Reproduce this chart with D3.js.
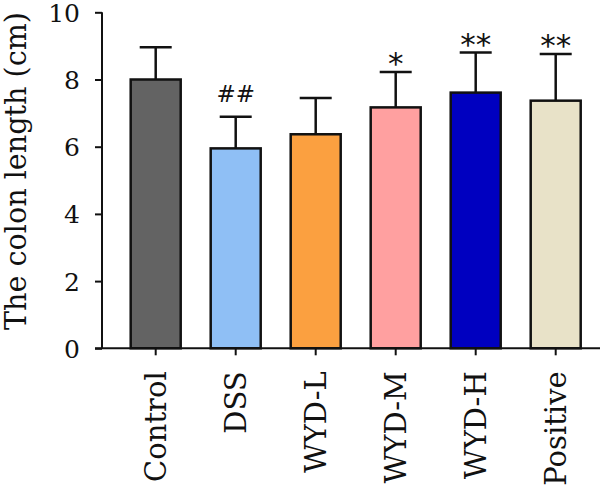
<!DOCTYPE html>
<html><head><meta charset="utf-8">
<script src="https://cdn.jsdelivr.net/npm/d3@7"></script>
<style>body{margin:0;background:#fff}</style>
</head><body>
<svg id="c" width="600" height="494"></svg>
<script>
const categories = ["Control","DSS","WYD-L","WYD-M","WYD-H","Positive"];
const means = [8.0, 5.95, 6.37, 7.17, 7.61, 7.37];
const errors = [0.96, 0.94, 1.08, 1.05, 1.19, 1.39];
const marks = ["", "##", "", "*", "**", "**"];
const colors = ["#636363","#8fbff5","#fba040","#ffa0a0","#0000c0","#e8e2c8"];
const yTicks = [0,2,4,6,8,10];

const svg = d3.select("#c");
const axisX = 102;
const y = d3.scaleLinear().domain([0,10]).range([348.3,12.3]);
const x = d3.scaleBand().domain(categories).range([115.7,595.7]).paddingInner(0.375).paddingOuter(0.1875);

const serif = "'DejaVu Serif', serif";

// bars
svg.selectAll("rect.bar").data(categories).enter().append("rect")
  .attr("x", d=>x(d)).attr("width", x.bandwidth())
  .attr("y", (d,i)=>y(means[i])).attr("height", (d,i)=>y(0)-y(means[i]))
  .attr("fill", (d,i)=>colors[i]).attr("stroke","#111").attr("stroke-width",2.5);

// error bars
const capW = 32;
categories.forEach((d,i)=>{
  const cx = x(d)+x.bandwidth()/2;
  svg.append("line").attr("x1",cx).attr("x2",cx).attr("y1",y(means[i])).attr("y2",y(means[i]+errors[i]))
    .attr("stroke","#111").attr("stroke-width",2.5);
  svg.append("line").attr("x1",cx-capW/2).attr("x2",cx+capW/2).attr("y1",y(means[i]+errors[i])).attr("y2",y(means[i]+errors[i]))
    .attr("stroke","#111").attr("stroke-width",2.5);
  if(marks[i]){
    const isHash = marks[i][0]==="#";
    svg.append("text").attr("x",cx).attr("y", y(means[i]+errors[i]) - (isHash?15:-2))
      .attr("text-anchor","middle").attr("font-family","'DejaVu Sans', sans-serif")
      .attr("font-size", isHash?23:31).attr("fill","#111").text(marks[i]);
  }
});

// y axis
const ya = svg.append("g").attr("transform",`translate(${axisX},0)`)
  .call(d3.axisLeft(y).tickValues(yTicks).tickSize(7).tickPadding(15));
ya.select(".domain").attr("stroke","#111").attr("stroke-width",2).attr("d",`M-0,${y(10)}V${y(0)}`);
ya.selectAll(".tick line").attr("stroke","#111").attr("stroke-width",2);
ya.selectAll(".tick text").attr("font-family",serif).attr("font-size",25).attr("fill","#111").attr("dy","0.36em");

// x axis
const xa = svg.append("g").attr("transform",`translate(0,${y(0)})`)
  .call(d3.axisBottom(x).tickSize(7).tickSizeOuter(0));
xa.select(".domain").attr("stroke","#111").attr("stroke-width",2).attr("d",`M95,0H600`);
xa.selectAll(".tick line").attr("stroke","#111").attr("stroke-width",2);
xa.selectAll(".tick text").attr("font-family",serif).attr("font-size",29).attr("fill","#111")
  .attr("transform","rotate(-90)").attr("text-anchor","end")
  .attr("x",-23).attr("y",0).attr("dy","0.35em");

// y label
svg.append("text").attr("transform",`translate(26,${171}) rotate(-90)`)
  .attr("text-anchor","middle").attr("font-family",serif).attr("font-size",29).attr("fill","#111")
  .attr("textLength",318).attr("lengthAdjust","spacingAndGlyphs")
  .text("The colon length (cm)");
</script>
</body></html>
